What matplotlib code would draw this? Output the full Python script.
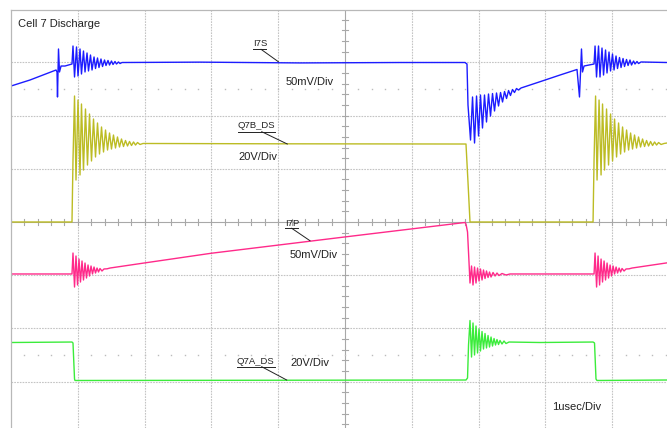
import matplotlib.pyplot as plt

plt.rcParams['font.family'] = ['Liberation Sans', 'DejaVu Sans']

# time in usec (1 usec/div), trace values in screen divisions (0 = centre line)
i7s_t = [0.000, 0.284, 0.674, 0.689, 0.696, 0.711, 0.726, 0.749, 0.808, 0.913,
         0.928, 0.951, 0.981, 1.003, 1.033, 1.055, 1.085, 1.108, 1.138, 1.160,
         1.190, 1.213, 1.243, 1.265, 1.295, 1.317, 1.347, 1.370, 1.400, 1.422,
         1.452, 1.475, 1.504, 1.527, 1.557, 1.579, 1.609, 1.632, 1.662,
         2.829, 4.326, 5.823, 6.796, 6.826,
         6.841, 6.879, 6.909, 6.939, 6.969, 6.999, 7.028, 7.058, 7.088, 7.118,
         7.148, 7.178, 7.208, 7.238, 7.268, 7.298, 7.328, 7.358, 7.388, 7.418,
         7.448, 7.477, 7.507, 7.537, 7.567, 7.597, 7.635, 7.919, 8.219, 8.473,
         8.510, 8.540, 8.555, 8.578, 8.728,
         8.743, 8.765, 8.795, 8.817, 8.847, 8.870, 8.900, 8.922, 8.952, 8.975,
         9.004, 9.027, 9.057, 9.079, 9.109, 9.132, 9.162, 9.184, 9.214, 9.237,
         9.266, 9.289, 9.319, 9.341, 9.371, 9.394, 9.431, 9.820]
i7s_v = [2.556, 2.669, 2.857, 2.820, 2.350, 3.252, 2.820, 2.932, 2.932, 2.970,
         3.308, 2.726, 3.290, 2.744, 3.252, 2.782, 3.214, 2.820, 3.177, 2.839,
         3.139, 2.857, 3.102, 2.885, 3.083, 2.904, 3.064, 2.923, 3.045, 2.942,
         3.036, 2.951, 3.026, 2.961, 3.017, 2.970, 3.008, 2.979, 2.998,
         3.005, 2.990, 2.998, 2.998, 2.970,
         2.199, 1.541, 2.350, 1.485, 2.368, 1.617, 2.387, 1.767, 2.387, 1.880,
         2.406, 1.992, 2.415, 2.087, 2.425, 2.181, 2.434, 2.256, 2.453, 2.322,
         2.472, 2.378, 2.491, 2.434, 2.509, 2.481, 2.519, 2.637, 2.763, 2.867,
         2.350, 3.252, 2.820, 2.932, 2.970,
         3.308, 2.726, 3.308, 2.726, 3.270, 2.763, 3.233, 2.801, 3.195, 2.839,
         3.158, 2.857, 3.120, 2.885, 3.092, 2.904, 3.073, 2.923, 3.055, 2.942,
         3.045, 2.951, 3.026, 2.970, 3.017, 2.979, 3.008, 2.998]

q7b_t = [0.000, 0.913, 0.928, 0.951, 0.973, 1.003, 1.033, 1.055, 1.085, 1.115,
         1.145, 1.175, 1.205, 1.235, 1.265, 1.295, 1.325, 1.355, 1.385, 1.415,
         1.445, 1.475, 1.504, 1.534, 1.564, 1.594, 1.624, 1.654, 1.684, 1.714,
         1.744, 1.774, 1.804, 1.834, 1.864, 1.894, 1.931, 1.976,
         4.000, 6.811, 6.841, 6.871, 8.713,
         8.728, 8.751, 8.773, 8.803, 8.833, 8.855, 8.885, 8.915, 8.945, 8.975,
         9.005, 9.035, 9.065, 9.095, 9.125, 9.155, 9.185, 9.215, 9.245, 9.275,
         9.304, 9.334, 9.364, 9.394, 9.424, 9.454, 9.484, 9.514, 9.544, 9.574,
         9.604, 9.634, 9.664, 9.694, 9.731, 9.776, 9.820]
q7b_v = [0.000, 0.000, 1.165, 2.368, 0.789, 2.293, 0.884, 2.218, 0.977, 2.124,
         1.071, 2.030, 1.147, 1.936, 1.222, 1.861, 1.278, 1.786, 1.316, 1.729,
         1.353, 1.673, 1.372, 1.635, 1.391, 1.598, 1.410, 1.560, 1.419, 1.532,
         1.429, 1.513, 1.438, 1.504, 1.447, 1.494, 1.457, 1.476,
         1.470, 1.466, 0.750, 0.000, 0.000,
         1.165, 2.368, 0.789, 2.293, 0.884, 2.218, 0.977, 2.124, 1.071, 2.030,
         1.147, 1.936, 1.222, 1.861, 1.278, 1.786, 1.316, 1.729, 1.353, 1.673,
         1.372, 1.635, 1.391, 1.598, 1.410, 1.560, 1.419, 1.532, 1.429, 1.513,
         1.438, 1.504, 1.447, 1.494, 1.457, 1.476, 1.485]

i7p_t = [0.000, 0.913, 0.928, 0.951, 0.973, 0.996, 1.018, 1.040, 1.063, 1.085,
         1.108, 1.130, 1.153, 1.175, 1.198, 1.220, 1.243, 1.265, 1.288, 1.310,
         1.332, 1.362, 1.392, 1.437, 1.482, 1.991, 2.994, 4.990, 6.796,
         6.811, 6.834, 6.856, 6.871, 6.894, 6.916, 6.939, 6.961, 6.984, 7.006,
         7.028, 7.051, 7.073, 7.096, 7.118, 7.141, 7.163, 7.186, 7.216, 7.246,
         7.275, 7.305, 7.350, 7.410, 7.470, 8.728,
         8.743, 8.766, 8.788, 8.811, 8.833, 8.855, 8.878, 8.900, 8.923, 8.945,
         8.968, 8.990, 9.013, 9.035, 9.058, 9.080, 9.103, 9.125, 9.147, 9.177,
         9.207, 9.252, 9.297, 9.820]
i7p_v = [-0.977, -0.977, -0.583, -1.222, -0.639, -1.184, -0.696, -1.128, -0.733, -1.090,
         -0.771, -1.053, -0.808, -1.015, -0.827, -0.977, -0.846, -0.959, -0.865, -0.940,
         -0.874, -0.921, -0.883, -0.880, -0.865, -0.771, -0.588, -0.282, -0.009,
         -0.038, -0.188, -0.752, -1.147, -0.827, -1.184, -0.846, -1.147, -0.865, -1.109,
         -0.883, -1.090, -0.902, -1.062, -0.921, -1.043, -0.940, -1.034, -0.949, -1.015,
         -0.959, -1.006, -0.968, -0.996, -0.977, -0.977,
         -0.583, -1.222, -0.639, -1.184, -0.696, -1.128, -0.733, -1.090, -0.771, -1.053,
         -0.808, -1.015, -0.827, -0.977, -0.846, -0.959, -0.865, -0.940, -0.874, -0.921,
         -0.883, -0.880, -0.865, -0.768]

q7a_t = [0.000, 0.913, 0.928, 0.951, 0.958, 6.811, 6.834, 6.849, 6.871, 6.894,
         6.916, 6.939, 6.961, 6.984, 7.006, 7.028, 7.051, 7.073, 7.096, 7.118,
         7.141, 7.163, 7.186, 7.208, 7.231, 7.253, 7.275, 7.298, 7.320, 7.350,
         7.380, 7.410, 7.455, 7.919, 8.713, 8.735, 8.757, 8.772, 9.820]
q7a_v = [-2.265, -2.256, -2.274, -2.951, -2.979, -2.970, -2.932, -2.312, -1.852, -2.538,
         -1.898, -2.500, -1.955, -2.462, -2.011, -2.425, -2.058, -2.387, -2.096, -2.368,
         -2.133, -2.350, -2.162, -2.331, -2.190, -2.312, -2.209, -2.303, -2.227, -2.293,
         -2.237, -2.284, -2.256, -2.265, -2.256, -2.274, -2.951, -2.979, -2.970]

fig = plt.figure(figsize=(6.67, 4.28), dpi=100)
ax = fig.add_axes([11 / 667, 0, 656 / 667, 418 / 428])
ax.set_xlim(0, 9.82)
ax.set_ylim(-3.872, 3.985)

# scope graticule
for gx in range(1, 10):
    if gx != 5:
        ax.axvline(gx, color='#c4c4c4', lw=0.8, ls=(0, (1.5, 1)), zorder=0)
for gy in range(-3, 4):
    if gy != 0:
        ax.axhline(gy, color='#c4c4c4', lw=0.8, ls=(0, (1.5, 1)), zorder=0)
ax.axvline(5, color='#a8a8a8', lw=0.8, zorder=0)
ax.axhline(0, color='#a8a8a8', lw=0.8, zorder=0)
for k in range(-20, 21):
    ax.plot([4.955, 5.045], [k * 0.2, k * 0.2], color='#a8a8a8', lw=0.8, zorder=0)
for k in range(0, 50):
    ax.plot([k * 0.2, k * 0.2], [-0.056, 0.056], color='#a8a8a8', lw=0.8, zorder=0)
for ry in (2.5, -2.5):
    ax.plot([k * 0.2 for k in range(1, 50)], [ry] * 49, ls='none', marker='s',
            ms=1.0, mec='none', mfc='#bcbcbc', zorder=0)

for side in ('right', 'bottom'):
    ax.spines[side].set_visible(False)
for side in ('left', 'top'):
    ax.spines[side].set_color('#b8b8b8')
    ax.spines[side].set_linewidth(0.9)
ax.set_xticks([])
ax.set_yticks([])

ax.plot(i7s_t, i7s_v, color='#1c1cff', lw=1.0)
ax.plot(q7b_t, q7b_v, color='#bcbc24', lw=1.0)
ax.plot(i7p_t, i7p_v, color='#ff2a8a', lw=1.0)
ax.plot(q7a_t, q7a_v, color='#3bec3b', lw=1.0)

txt = '#222222'
ax.text(0.105, 3.722, 'Cell 7 Discharge', fontsize=8, color=txt, va='center')
ax.text(8.099, -3.477, '1usec/Div', fontsize=8, color=txt, va='center')

# channel labels: (name, x, y, underline end, leader start, leader end, scale, scale pos)
labels = [
    ('I7S', 3.623, 3.346, 3.817, (3.743, 3.246), (4.002, 3.013), '50mV/Div', (4.117, 2.637)),
    ('Q7B_DS', 3.398, 1.808, 3.952, (3.753, 1.697), (4.136, 1.466), '20V/Div', (3.398, 1.231)),
    ('I7P', 4.102, -0.019, 4.296, (4.202, -0.118), (4.476, -0.352), '50mV/Div', (4.177, -0.620)),
    ('Q7A_DS', 3.383, -2.613, 3.952, (3.753, -2.720), (4.127, -2.970), '20V/Div', (4.177, -2.650)),
]
for name, lx, ly, ux, p0, p1, scale, sp in labels:
    ax.text(lx, ly, name, fontsize=6.8, color=txt, va='center')
    ax.plot([lx, ux], [p0[1], p0[1]], color=txt, lw=0.7)
    ax.plot([p0[0], p1[0]], [p0[1], p1[1]], color=txt, lw=0.7)
    ax.text(sp[0], sp[1], scale, fontsize=8, color=txt, va='center')

fig.savefig('out.png', dpi=100)
